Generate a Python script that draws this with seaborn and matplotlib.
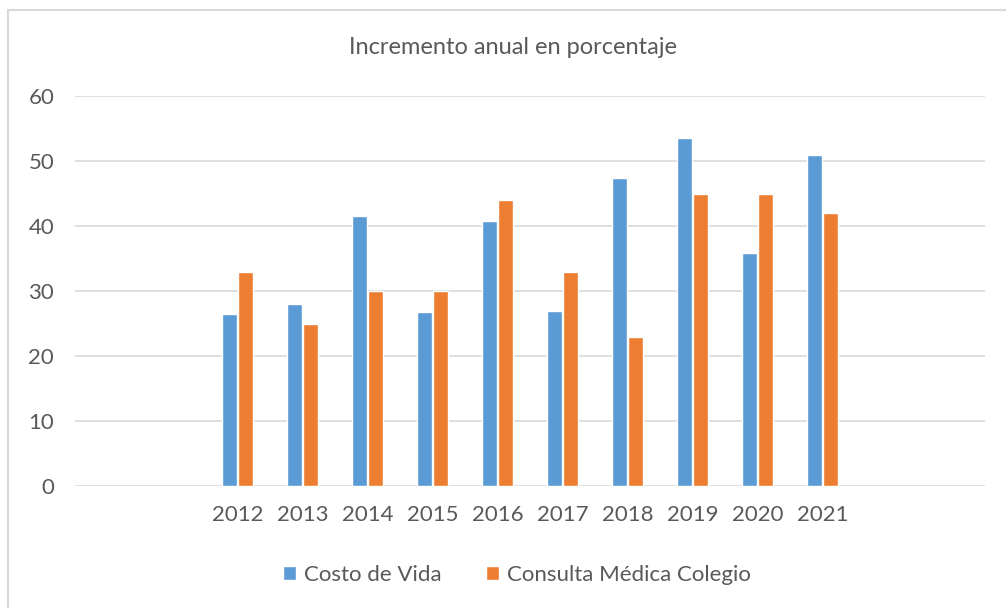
import pandas as pd
import numpy as np
import matplotlib.pyplot as plt
import seaborn as sns
from matplotlib.patches import Rectangle

# values
years = ['2012', '2013', '2014', '2015', '2016', '2017', '2018', '2019', '2020', '2021']
costo_vida = [26.4, 28.0, 41.5, 26.8, 40.8, 27.0, 47.4, 53.6, 35.9, 51.0]
consulta_medica = [33, 25, 30, 30, 44, 33, 23, 45, 45, 42]
series_names = ['Costo de Vida', 'Consulta Médica Colegio']
colors = ['#5B9BD5', '#ED7D31']

df = pd.concat([
    pd.DataFrame({'year': years, 'value': costo_vida, 'serie': series_names[0]}),
    pd.DataFrame({'year': years, 'value': consulta_medica, 'serie': series_names[1]}),
])

sns.set_style('white')
plt.rcParams['font.family'] = ['Lato', 'DejaVu Sans']
text_color = '#595959'
grid_color = '#D9D9D9'

fig = plt.figure(figsize=(10.06, 6.08), dpi=100)
ax = fig.add_axes([75 / 1006, 1 - 486 / 608, 910 / 1006, 390 / 608])

sns.barplot(data=df, x='year', y='value', hue='serie', order=years,
            hue_order=series_names, palette=colors, width=0.52, gap=0.11,
            saturation=1, ax=ax, legend=True)

# Excel leaves two empty category slots on each side
ax.set_xlim(-2.5, 11.5)
ax.set_ylim(0, 60)
ax.set_yticks(np.arange(0, 61, 10))
ax.yaxis.grid(True, color=grid_color, linewidth=1.2)
ax.set_axisbelow(True)
for s in ax.spines.values():
    s.set_visible(False)
ax.tick_params(axis='both', length=0, labelsize=16, labelcolor=text_color)
ax.tick_params(axis='y', pad=15)
ax.tick_params(axis='x', pad=14)
ax.set_xlabel('')
ax.set_ylabel('')

handles, labels = ax.get_legend_handles_labels()
ax.get_legend().remove()
fig.legend(handles, labels, loc='center', bbox_to_anchor=(517 / 1006, 1 - 575 / 608),
           ncol=2, frameon=False, fontsize=16, labelcolor=text_color,
           handlelength=0.6, handleheight=0.6, handletextpad=0.35, columnspacing=2.0)

fig.text(513 / 1006, 1 - 47 / 608, 'Incremento anual en porcentaje',
         ha='center', va='center', fontsize=17, color=text_color)

# chart-area border (right and bottom edges fall outside the picture)
fig.patches.append(Rectangle((8 / 1006, -0.1), 1.2, 1 - 10 / 608 + 0.1,
                             transform=fig.transFigure, fill=False,
                             edgecolor='#D9D9D9', linewidth=1.5))

plt.savefig('out.png', dpi=100)
